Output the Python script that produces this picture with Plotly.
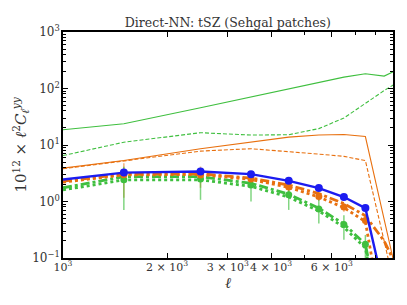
import plotly.graph_objects as go

# ---- data ----
ell_lines = [1000, 1500, 2500, 3500, 4500, 5500, 6500, 7500, 8500, 9500]
ell_pts = [1500, 2500, 3500, 4500, 5500, 6500, 7500]

blue_pred = [2.45, 3.25, 3.40, 3.05, 2.32, 1.73, 1.20, 0.764, 0.027]

orange_solid_thin = [3.9, 5.3, 8.6, 11.4, 13.8, 15.0, 15.3, 14.1, 0.43, 0.024]
orange_dash_thin = [3.8, 5.2, 7.8, 8.6, 7.7, 6.9, 6.3, 5.3, 0.2, 0.01]
green_solid_thin = [18.6, 23.7, 45.7, 70.5, 98.8, 128, 159, 182, 166, 230]
green_dash_thin = [6.5, 11.2, 16.5, 15.0, 15.2, 19.5, 30, 55, 92, 140]

orange_dashdot = [2.3, 3.05, 3.1, 2.6, 1.95, 1.38, 0.92, 0.56, 0.2, 0.05]
orange_dotted = [2.2, 2.95, 3.0, 2.45, 1.78, 1.2, 0.78, 0.44, 0.006]
green_dashdot = [1.75, 2.75, 2.75, 2.1, 1.35, 0.76, 0.40, 0.175, 0.004]
green_dotted = [1.6, 2.42, 2.42, 1.85, 1.2, 0.68, 0.35, 0.15, 0.003]

orange_pts = [2.97, 2.95, 2.49, 1.80, 1.23, 0.80, 0.46]
orange_err = [1.8, 1.2, 0.6, 0.34, 0.21, 0.14, 0.07]
green_pts = [2.42, 2.49, 1.95, 1.31, 0.74, 0.39, 0.176]
green_err = [1.71, 1.42, 0.95, 0.60, 0.33, 0.18, 0.08]

x_tickvals = [1000, 2000, 3000, 4000, 6000]
x_ticktext = ["10<sup>3</sup>", "2 × 10<sup>3</sup>", "3 × 10<sup>3</sup>",
              "4 × 10<sup>3</sup>", "6 × 10<sup>3</sup>"]
x_minor = [5000, 7000, 8000, 9000]
y_tickvals = [0.1, 1, 10, 100, 1000]
y_ticktext = ["10<sup>−1</sup>", "10<sup>0</sup>", "10<sup>1</sup>",
              "10<sup>2</sup>", "10<sup>3</sup>"]
y_minor = [m * 10 ** e for e in range(-1, 3) for m in range(2, 10)]

BLUE = "#1c1cf0"
ORANGE = "#e8700f"
GREEN = "#3fbf3f"
ORANGE_EB = "rgba(232,112,15,0.55)"
GREEN_EB = "rgba(63,191,63,0.65)"

fig = go.Figure()


def line(x, y, color, width, dash):
    fig.add_trace(go.Scatter(x=x[:len(y)], y=y, mode="lines",
                             line=dict(color=color, width=width, dash=dash),
                             hoverinfo="skip", showlegend=False))


line(ell_lines, green_solid_thin, GREEN, 1.1, "solid")
line(ell_lines, green_dash_thin, GREEN, 1.1, "4px,2px")
line(ell_lines, orange_solid_thin, ORANGE, 1.1, "solid")
line(ell_lines, orange_dash_thin, ORANGE, 1.1, "4px,2px")

# error bars
fig.add_trace(go.Scatter(x=ell_pts, y=orange_pts, mode="markers",
                         marker=dict(size=1, color="rgba(0,0,0,0)"),
                         error_y=dict(type="data", array=orange_err, color=ORANGE_EB,
                                      thickness=1.5, width=0),
                         showlegend=False, hoverinfo="skip"))
fig.add_trace(go.Scatter(x=ell_pts, y=green_pts, mode="markers",
                         marker=dict(size=1, color="rgba(0,0,0,0)"),
                         error_y=dict(type="data", array=green_err, color=GREEN_EB,
                                      thickness=1.5, width=0),
                         showlegend=False, hoverinfo="skip"))

line(ell_lines, green_dotted, GREEN, 2.8, "dot")
line(ell_lines, green_dashdot, GREEN, 2.8, "dashdot")
line(ell_lines, orange_dotted, ORANGE, 2.8, "dot")
line(ell_lines, orange_dashdot, ORANGE, 2.8, "dashdot")

fig.add_trace(go.Scatter(x=ell_pts, y=green_pts, mode="markers",
                         marker=dict(size=7, color=GREEN),
                         showlegend=False, hoverinfo="skip"))
fig.add_trace(go.Scatter(x=ell_pts, y=orange_pts, mode="markers",
                         marker=dict(size=7, color=ORANGE),
                         showlegend=False, hoverinfo="skip"))

line(ell_lines, blue_pred, BLUE, 2.4, "solid")
fig.add_trace(go.Scatter(x=ell_pts, y=blue_pred[1:1 + len(ell_pts)], mode="markers",
                         marker=dict(size=8, color=BLUE),
                         showlegend=False, hoverinfo="skip"))

SERIF = "DejaVu Serif"
axis_common = dict(
    type="log", showgrid=False, zeroline=False,
    showline=True, linecolor="black", linewidth=1.5, mirror="allticks",
    ticks="inside", ticklen=5, tickwidth=1, tickcolor="black",
    tickangle=0,
)

# page body has an 8px margin, so the figure is sized to fit the window
fig.update_layout(
    width=399, height=297,
    margin=dict(l=55, r=14, t=24, b=47),
    paper_bgcolor="white", plot_bgcolor="white",
    title=dict(text="Direct-NN: tSZ (Sehgal patches)", x=0.551, xanchor="center",
               y=0.95, yanchor="middle",
               font=dict(family=SERIF, size=12.5, color="#333")),
    font=dict(family=SERIF, color="#333"),
    annotations=[dict(text="<i>ℓ</i>", xref="paper", yref="paper", x=0.5, y=0,
                      yshift=-25, xanchor="center", yanchor="middle",
                      showarrow=False,
                      font=dict(family=SERIF, size=15, color="#333"))],
)
fig.update_xaxes(**axis_common, range=[3, 3.955], tickmode="array",
                 tickvals=x_tickvals, ticktext=x_ticktext,
                 tickfont=dict(family=SERIF, size=11, color="#333"),
                 ticklabelstandoff=-2,
                 minor=dict(tickmode="array", tickvals=x_minor, ticks="inside",
                            ticklen=3, tickcolor="black", showgrid=False))
fig.update_yaxes(**axis_common, range=[-1, 3], tickmode="array",
                 tickvals=y_tickvals, ticktext=y_ticktext,
                 tickfont=dict(family=SERIF, size=12, color="#333"),
                 ticklabelstandoff=-1,
                 minor=dict(tickmode="array", tickvals=y_minor, ticks="inside",
                            ticklen=3, tickcolor="black", showgrid=False),
                 title=dict(text="10<sup>12</sup> × <i>ℓ</i><sup>2</sup><i>C</i><sub><i>ℓ</i></sub><sup><i>yy</i></sup>",
                            font=dict(family=SERIF, size=15, color="#333"),
                            standoff=2))

fig.write_html("out.html")
